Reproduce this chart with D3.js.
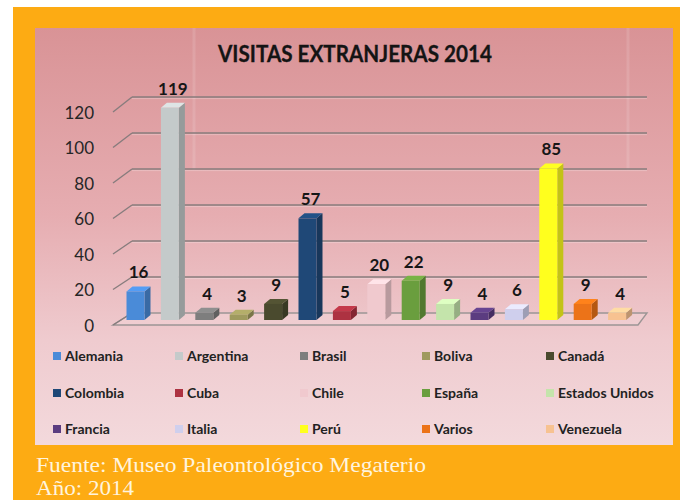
<!DOCTYPE html>
<html>
<head>
<meta charset="utf-8">
<script src="https://cdn.jsdelivr.net/npm/d3@7/dist/d3.min.js"></script>
<style>
  html, body { margin: 0; padding: 0; background: #ffffff; }
  svg { display: block; }
</style>
</head>
<body>
<svg id="chart" width="680" height="500"></svg>
<script>
// ---- Data ----
const categories = ["Alemania", "Argentina", "Brasil", "Boliva", "Canadá", "Colombia", "Cuba", "Chile",
  "España", "Estados Unidos", "Francia", "Italia", "Perú", "Varios", "Venezuela"];
const values = [16, 119, 4, 3, 9, 57, 5, 20, 22, 9, 4, 6, 85, 9, 4];
const colors = ["#4a8bd8", "#c4caca", "#7e7e7e", "#9f9a5e", "#4a4a2e", "#1f4877", "#ad3241", "#f0c9ce",
  "#6a9e3e", "#c4e4ab", "#5b3c80", "#cfcfed", "#ffff1e", "#ec7318", "#f7c291"];
const yTicks = [0, 20, 40, 60, 80, 100, 120];
const title = "VISITAS EXTRANJERAS 2014";
const sourceLines = ["Fuente: Museo Paleontológico Megaterio", "Año: 2014"];

const svg = d3.select("#chart");
const defs = svg.append("defs");

// ---- Frame & panel ----
svg.append("rect").attr("x", 13).attr("y", 7).attr("width", 667).attr("height", 493).attr("fill", "#fdab13");

const grad = defs.append("linearGradient").attr("id", "bg").attr("x1", 0).attr("y1", 0).attr("x2", 0).attr("y2", 1);
grad.append("stop").attr("offset", "0%").attr("stop-color", "#d99396");
grad.append("stop").attr("offset", "45%").attr("stop-color", "#e6adb1");
grad.append("stop").attr("offset", "75%").attr("stop-color", "#efcbcf");
grad.append("stop").attr("offset", "100%").attr("stop-color", "#f3d9dc");
svg.append("rect").attr("x", 35).attr("y", 28).attr("width", 638).attr("height", 417).attr("fill", "url(#bg)");

// faint scan streaks
[194, 628].forEach(x => {
  svg.append("line").attr("x1", x).attr("x2", x).attr("y1", 28).attr("y2", 170)
    .attr("stroke", "#ffffff").attr("stroke-opacity", 0.12).attr("stroke-width", 3);
});

// ---- Title ----
svg.append("text").attr("x", 355).attr("y", 62).attr("text-anchor", "middle")
  .attr("font-family", "Lato, 'Open Sans', sans-serif").attr("font-weight", 700).attr("font-size", 23)
  .attr("fill", "#141414").attr("stroke", "#141414").attr("stroke-width", 0.3)
  .attr("textLength", 274).attr("lengthAdjust", "spacingAndGlyphs")
  .text(title);

// ---- Scales ----
const yBack = d3.scaleLinear().domain([0, 120]).range([313, 97]);
const yFront = d3.scaleLinear().domain([0, 120]).range([325, 112]);
const yBar = d3.scaleLinear().domain([0, 120]).range([320, 106]);
const x = d3.scaleBand().domain(categories).range([118.3, 634.3]).paddingInner(0.477).paddingOuter(0.2385);

const floorFrontL = 113, floorFrontR = 638, backL = 132, backR = 647;

// ---- Floor ----
svg.append("polygon")
  .attr("points", [[floorFrontL, yFront(0)], [floorFrontR, yFront(0)], [backR, yBack(0)], [backL, yBack(0)]].map(p => p.join(",")).join(" "))
  .attr("fill", "#ffffff").attr("fill-opacity", 0.12)
  .attr("stroke", "#9c9595").attr("stroke-width", 1.4);

// ---- Gridlines (back wall + left diagonals) ----
const grid = svg.append("g");
yTicks.filter(v => v > 0).forEach(v => {
  grid.append("line").attr("x1", backL).attr("x2", backR).attr("y1", yBack(v)).attr("y2", yBack(v))
    .attr("stroke", "#877c7d").attr("stroke-width", 1.6);
  grid.append("line").attr("x1", backL).attr("x2", backR).attr("y1", yBack(v) + 1.6).attr("y2", yBack(v) + 1.6)
    .attr("stroke", "#ffffff").attr("stroke-opacity", 0.25).attr("stroke-width", 1);
});
yTicks.forEach(v => {
  grid.append("line").attr("x1", floorFrontL).attr("y1", yFront(v)).attr("x2", backL).attr("y2", yBack(v))
    .attr("stroke", "#877c7d").attr("stroke-width", 1.4);
});

// ---- Y tick labels ----
svg.append("g").selectAll("text").data(yTicks).join("text")
  .attr("x", 94).attr("y", d => yFront(d) + 1).attr("dy", "0.35em").attr("text-anchor", "end")
  .attr("font-family", "Lato, 'Open Sans', sans-serif").attr("font-size", 17).attr("fill", "#262626")
  .text(d => d);

// ---- 3D bars ----
const dx = 6, dy = -5;
const bars = svg.append("g");
categories.forEach((c, i) => {
  const v = values[i];
  const x0 = x(c), w = x.bandwidth();
  const top = yBar(v), bot = yBar(0);
  const base = d3.color(colors[i]);
  const g = bars.append("g");
  // side
  g.append("polygon")
    .attr("points", [[x0 + w, top], [x0 + w + dx, top + dy], [x0 + w + dx, bot + dy], [x0 + w, bot]].map(p => p.join(",")).join(" "))
    .attr("fill", base.darker(0.75));
  // top
  g.append("polygon")
    .attr("points", [[x0, top], [x0 + dx, top + dy], [x0 + w + dx, top + dy], [x0 + w, top]].map(p => p.join(",")).join(" "))
    .attr("fill", base.brighter(0.35));
  // front
  g.append("rect").attr("x", x0).attr("y", top).attr("width", w).attr("height", bot - top)
    .attr("fill", base);
  // value label
  g.append("text").attr("x", x0 + (w + dx) / 2).attr("y", top - 13).attr("text-anchor", "middle")
    .attr("font-family", "Lato, 'Open Sans', sans-serif").attr("font-weight", 700).attr("font-size", 17)
    .attr("fill", "#161616").text(v);
});

// ---- Legend ----
const colX = [53, 175, 300, 422, 546];
const rowY = [356, 393, 429];
const legend = svg.append("g");
categories.forEach((c, i) => {
  const cx = colX[i % 5], cy = rowY[Math.floor(i / 5)];
  legend.append("rect").attr("x", cx).attr("y", cy - 4).attr("width", 8).attr("height", 8).attr("fill", colors[i]);
  legend.append("text").attr("x", cx + 12).attr("y", cy).attr("dy", "0.35em")
    .attr("font-family", "Lato, 'Open Sans', sans-serif").attr("font-weight", 700).attr("font-size", 14)
    .attr("fill", "#222222").text(c);
});

// ---- Source ----
svg.append("text").attr("x", 36).attr("y", 472)
  .attr("font-family", "'Liberation Serif', 'DejaVu Serif', serif").attr("font-size", 21)
  .attr("fill", "#fff4de").attr("textLength", 390).attr("lengthAdjust", "spacingAndGlyphs")
  .text(sourceLines[0]);
svg.append("text").attr("x", 36).attr("y", 495)
  .attr("font-family", "'Liberation Serif', 'DejaVu Serif', serif").attr("font-size", 21)
  .attr("fill", "#fff4de").attr("textLength", 98).attr("lengthAdjust", "spacingAndGlyphs")
  .text(sourceLines[1]);
</script>
</body>
</html>
